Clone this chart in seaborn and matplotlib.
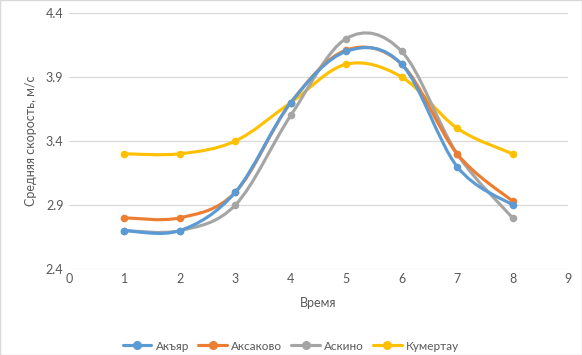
"""
Average wind speed by station, Excel-style smoothed lines
"""

import matplotlib.pyplot as plt
from matplotlib.lines import Line2D
from matplotlib.patches import PathPatch, Rectangle
from matplotlib.path import Path
import numpy as np
import seaborn as sns

TIME = [1, 2, 3, 4, 5, 6, 7, 8]
AKYAR = [2.7, 2.7, 3.0, 3.7, 4.1, 4.0, 3.2, 2.9]
AKSAKOVO = [2.8, 2.8, 3.0, 3.7, 4.11, 4.0, 3.3, 2.93]
ASKINO = [2.7, 2.7, 2.9, 3.6, 4.2, 4.1, 3.3, 2.8]
KUMERTAU = [3.3, 3.3, 3.4, 3.7, 4.0, 3.9, 3.5, 3.3]

STATIONS = ["Акъяр", "Аксаково", "Аскино", "Кумертау"]
SERIES = [AKYAR, AKSAKOVO, ASKINO, KUMERTAU]
COLORS = ["#5B9BD5", "#ED7D31", "#A5A5A5", "#FFC000"]

X_TICKS = list(range(0, 10))
Y_TICKS = [2.4, 2.9, 3.4, 3.9, 4.4]

TEXT = "#595959"
GRID = "#d9d9d9"


def smooth_path(x, y):
    # catmull-rom through the points, as bezier segments (like Excel's smoothed line)
    pts = np.column_stack([x, y]).astype(float)
    ext = np.vstack([pts[0], pts, pts[-1]])
    verts = [pts[0]]
    codes = [Path.MOVETO]
    for i in range(len(pts) - 1):
        p0, p1, p2, p3 = ext[i], ext[i + 1], ext[i + 2], ext[i + 3]
        verts += [p1 + (p2 - p0) / 6, p2 - (p3 - p1) / 6, p2]
        codes += [Path.CURVE4] * 3
    return Path(verts, codes)


def main():
    sns.set_theme(style="white")
    plt.rcParams["font.family"] = ["Lato", "Open Sans", "DejaVu Sans"]

    fig = plt.figure(figsize=(5.82, 3.55), dpi=100)
    ax = fig.add_axes([69 / 582, 1 - 269 / 355, 499 / 582, 256 / 355])

    # first series ends up on top, as in the source
    for i, (name, vals, color) in enumerate(zip(STATIONS, SERIES, COLORS)):
        z = 10 - i
        ax.add_patch(PathPatch(smooth_path(TIME, vals), fill=False, edgecolor=color,
                               lw=2.25, capstyle="round", joinstyle="round", zorder=z))
        sns.scatterplot(x=TIME, y=vals, color=color, s=30, linewidth=0,
                        zorder=z, ax=ax, legend=False)

    ax.set_xlim(0, 9)
    ax.set_ylim(2.4, 4.4)
    ax.set_xticks(X_TICKS)
    ax.set_yticks(Y_TICKS)
    ax.set_yticklabels([f"{v:.1f}" for v in Y_TICKS])
    ax.tick_params(length=0, labelsize=9, labelcolor=TEXT)
    ax.tick_params(axis="x", pad=3)
    ax.tick_params(axis="y", pad=4)
    ax.grid(axis="y", color=GRID, lw=0.9)
    ax.grid(axis="x", visible=False)
    for side in ax.spines.values():
        side.set_visible(False)

    ax.set_xlabel("Время", fontsize=9, color=TEXT)
    ax.set_ylabel("Средняя скорость, м/с", fontsize=9, color=TEXT)
    ax.xaxis.set_label_coords(0.5, -0.11)
    ax.yaxis.set_label_coords(-0.064, 0.5)

    handles = [Line2D([], [], color=c, lw=2.25, marker="o", markersize=5.5)
               for c in COLORS]
    leg = fig.legend(handles, STATIONS, loc="center", ncol=4, frameon=False,
                     bbox_to_anchor=(0.5, 0.025), handlelength=2.4,
                     columnspacing=0.8, handletextpad=0.35, fontsize=8.5)
    for t in leg.get_texts():
        t.set_color(TEXT)

    fig.patches.append(Rectangle((0, 0), 1, 1, transform=fig.transFigure,
                                 fill=False, ec=GRID, lw=1))
    fig.savefig("out.png", dpi=100)


if __name__ == "__main__":
    main()
